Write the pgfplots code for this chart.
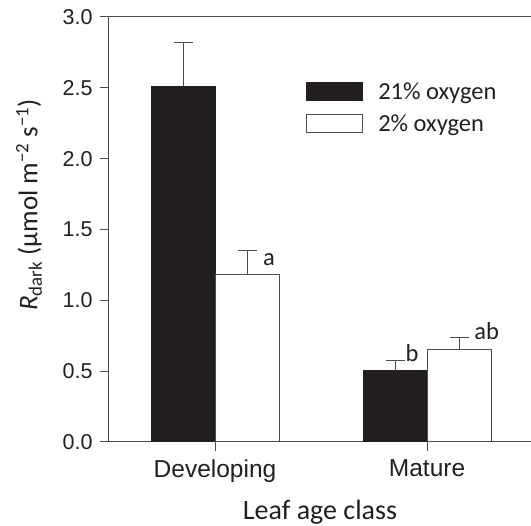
\documentclass[border=0pt]{standalone}
\usepackage{fontspec}
\setmainfont{Carlito}
\newfontfamily\arial{Liberation Sans}
\usepackage{pgfplots}
\pgfplotsset{compat=1.18}
\definecolor{barblack}{HTML}{231F20}
\definecolor{axgray}{HTML}{4D4D4D}

\begin{document}
\begin{tikzpicture}
\begin{axis}[
  name=ax,
  scale only axis,
  width=422pt, height=425pt,
  xmin=-0.5, xmax=1.49,
  ymin=0, ymax=3,
  ybar=0pt, bar width=64pt,
  legend image code/.code={\draw[#1] (0pt,-9pt) rectangle (56pt,9pt);},
  axis x line*=bottom, axis y line*=left,
  axis line style={axgray, line width=1pt},
  tick style={axgray, line width=1pt},
  tick align=outside, major tick length=9pt,
  xtick={0,1}, xticklabels={Developing, Mature},
  ytick={0,0.5,...,3},
  /pgf/number format/assume math mode=true,
  yticklabel={\pgfmathprintnumber[fixed,fixed zerofill,precision=1]{\tick}},
  xticklabel style={font=\arial\fontsize{24.5}{28}\selectfont, color=barblack, yshift=-5pt},
  yticklabel style={font=\arial\fontsize{21.5}{24}\selectfont, color=barblack, xshift=-4pt},
  xlabel={Leaf age class},
  ylabel={\textit{R}\textsubscript{dark} (µmol m\textsuperscript{−2} s\textsuperscript{−1})},
  every axis x label/.style={at={(rel axis cs:0.5,0)}, yshift=-78pt, anchor=base,
    font=\fontsize{28}{31}\selectfont, color=barblack},
  every axis y label/.style={at={(rel axis cs:0,0.558)}, xshift=-80pt, rotate=90, anchor=center,
    font=\fontsize{27}{30}\selectfont, color=barblack},
  legend style={at={(rel axis cs:0.467,0.847)}, anchor=north west, draw=none, fill=none,
    inner sep=0pt, row sep=13pt, font=\fontsize{24.5}{27}\selectfont,
    nodes={inner sep=0pt, text=barblack}},
  legend cell align=left,
  /tikz/every odd column/.append style={column sep=15pt},
  error bars/y dir=plus, error bars/y explicit,
  error bars/error bar style={axgray, line width=1pt},
  error bars/error mark options={axgray, rotate=90, mark size=9.5pt, line width=1pt},
  clip=false,
]
\addplot[fill=barblack, draw=barblack, line width=1pt]
  coordinates {(0,2.51) +- (0,0.31) (1,0.503) +- (0,0.07)};
\addplot[fill=white, draw=axgray, line width=1pt]
  coordinates {(0,1.18) +- (0,0.17) (1,0.656) +- (0,0.08)};
\legend{21\% oxygen, 2\% oxygen}
\draw[axgray, line width=1pt] (rel axis cs:0,1) -- (rel axis cs:1,1);
\node[font=\fontsize{24.5}{27}\selectfont, text=barblack] at (axis cs:0.255,1.285) {a};
\node[font=\fontsize{24.5}{27}\selectfont, text=barblack] at (axis cs:0.929,0.628) {b};
\node[font=\fontsize{24.5}{27}\selectfont, text=barblack] at (axis cs:1.281,0.784) {ab};
\end{axis}
\pgfresetboundingbox
\path[use as bounding box] ([xshift=-109pt,yshift=-84pt]ax.south west) rectangle ([yshift=17pt]ax.north east);
\end{tikzpicture}
\end{document}
